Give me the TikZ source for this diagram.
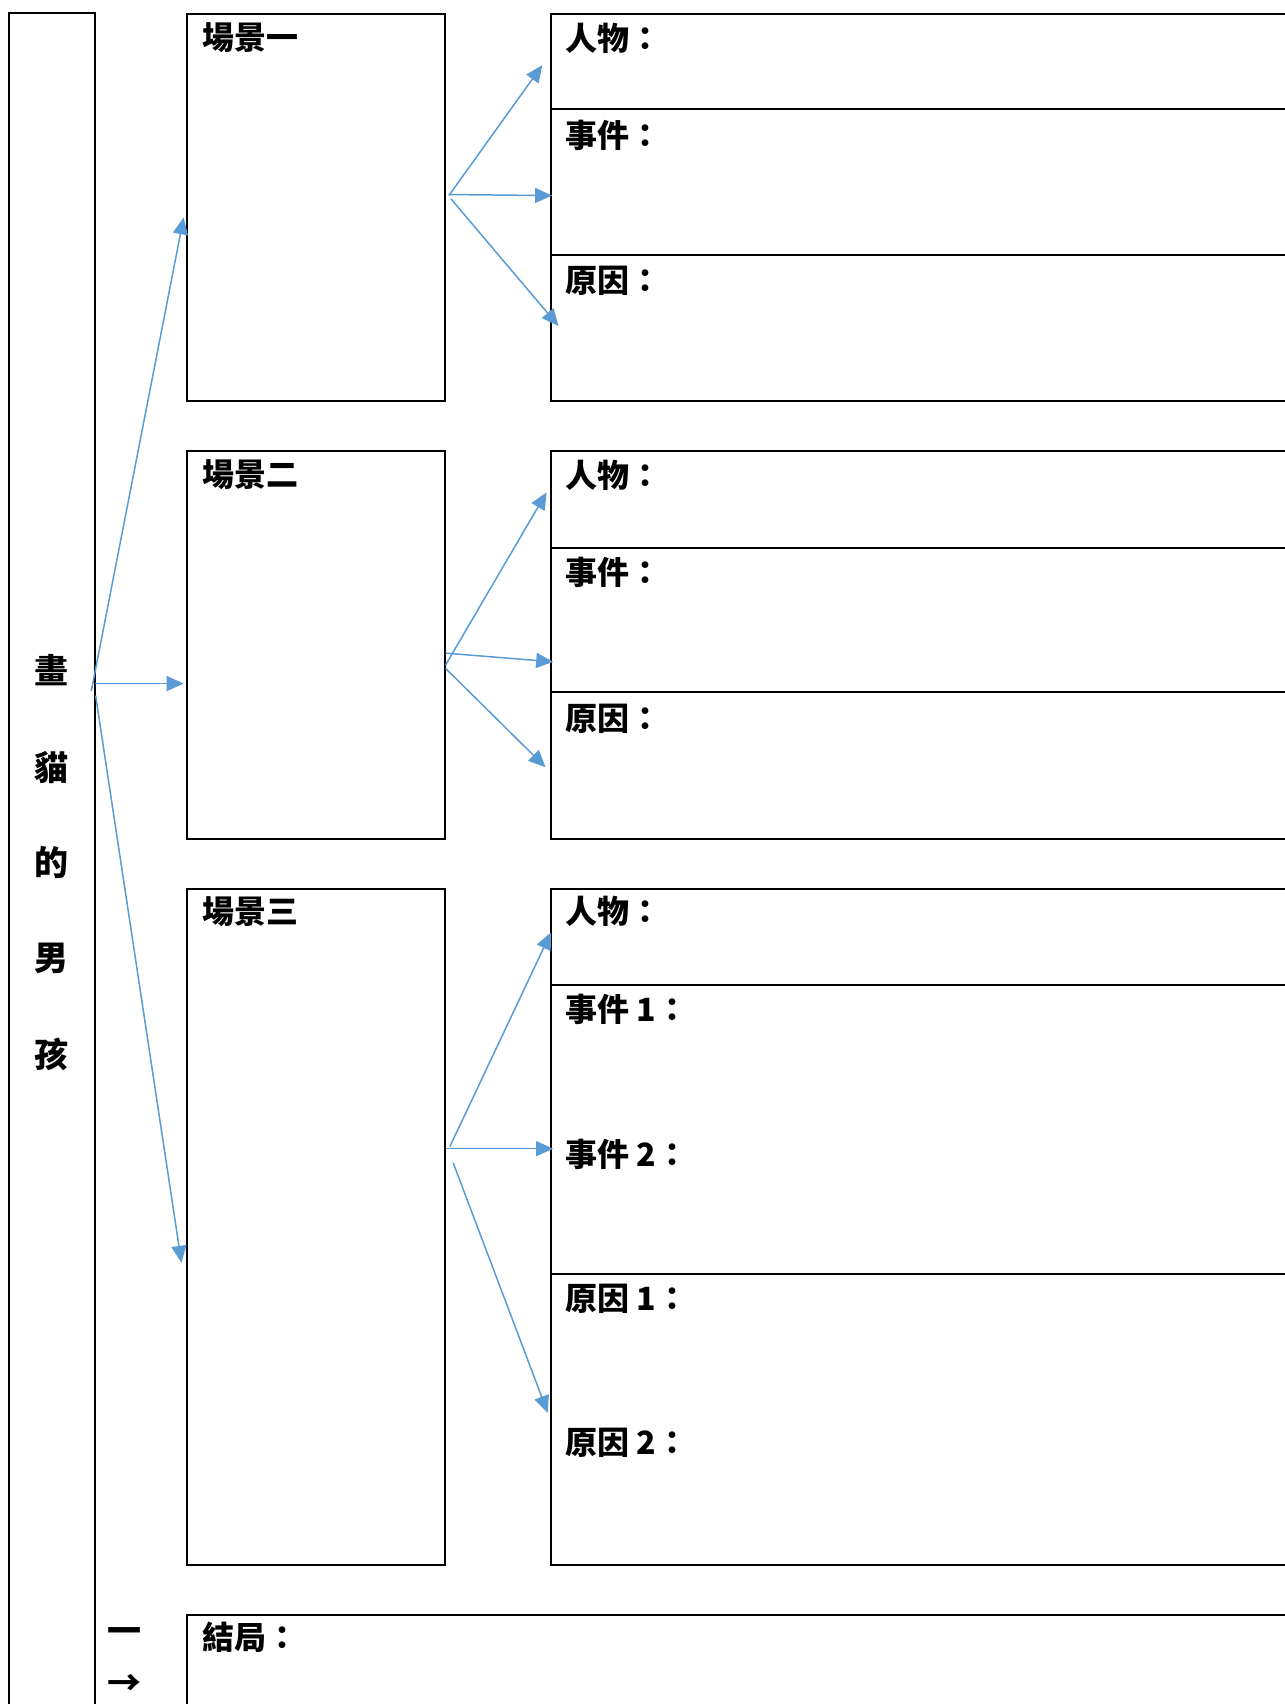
\documentclass[tikz,border=0pt]{standalone}
\usepackage{fontspec}
\newfontfamily\cjk{Noto Sans CJK TC}
\usetikzlibrary{arrows.meta}
\definecolor{arrowblue}{HTML}{5B9BD5}
\begin{document}
\begin{tikzpicture}[x=0.5435pt,y=-0.5435pt,
  box/.style={draw=black,line width=1pt,inner sep=0pt,anchor=north west},
  lbl/.style={anchor=west,inner sep=0pt,font=\cjk\bfseries\fontsize{16pt}{18pt}\selectfont},
  ttl/.style={inner sep=0pt,font=\cjk\bfseries\fontsize{17pt}{19pt}\selectfont},
  conn/.style={draw=arrowblue,line width=0.75pt,-{Triangle[length=8.5pt,width=7.5pt]}},
  divider/.style={draw=black,line width=1pt}]
\useasboundingbox (0,0) rectangle (1182,1568);
% left title column
\draw[line width=1pt] (8,1600) -- (8,12) -- (87,12) -- (87,1600);
\node[ttl] (t1) at (47,617) {畫};
\node[ttl] (t2) at (47,706) {貓};
\node[ttl] (t3) at (47,794) {的};
\node[ttl] (t4) at (47,882) {男};
\node[ttl] (t5) at (47,970) {孩};
% scene boxes
\node[box,minimum width=238*0.5435pt,minimum height=356*0.5435pt] (s1) at (171,12) {};
\node[box,minimum width=238*0.5435pt,minimum height=357*0.5435pt] (s2) at (171,414) {};
\node[box,minimum width=238*0.5435pt,minimum height=622*0.5435pt] (s3) at (171,817) {};
\node[lbl] (s1t) at (186,35) {場景一};
\node[lbl] (s2t) at (186,437) {場景二};
\node[lbl] (s3t) at (186,839) {場景三};
% detail boxes
\node[box,minimum width=700*0.5435pt,minimum height=356*0.5435pt] (d1) at (506,12) {};
\node[box,minimum width=700*0.5435pt,minimum height=357*0.5435pt] (d2) at (506,414) {};
\node[box,minimum width=700*0.5435pt,minimum height=622*0.5435pt] (d3) at (506,817) {};
\draw[divider] (506,100) -- (1200,100);
\draw[divider] (506,235) -- (1200,235);
\draw[divider] (506,504) -- (1200,504);
\draw[divider] (506,637) -- (1200,637);
\draw[divider] (506,906) -- (1200,906);
\draw[divider] (506,1172) -- (1200,1172);
\node[lbl] (d1a) at (520,35) {人物：};
\node[lbl] (d1b) at (520,125) {事件：};
\node[lbl] (d1c) at (520,258) {原因：};
\node[lbl] (d2a) at (520,437) {人物：};
\node[lbl] (d2b) at (520,527) {事件：};
\node[lbl] (d2c) at (520,661) {原因：};
\node[lbl] (d3a) at (520,839) {人物：};
\node[lbl] (d3b) at (520,929) {事件 1：};
\node[lbl] (d3c) at (520,1062) {事件 2：};
\node[lbl] (d3d) at (520,1195) {原因 1：};
\node[lbl] (d3e) at (520,1328) {原因 2：};
% ending box
\node[box,minimum width=1100*0.5435pt,minimum height=200*0.5435pt] (end) at (171,1485) {};
\node[lbl] (endt) at (186,1507) {結局：};
\node[ttl] (dash) at (115,1505) {一};
\node[ttl] (arr) at (115,1550) {→};
% connector coordinates
\coordinate (a0) at (84,636);
\coordinate (a1) at (87,629);
\coordinate (a2) at (88,640);
\coordinate (e1) at (169,200);
\coordinate (e2) at (169,629);
\coordinate (e3) at (167,1162);
\draw[conn] (a0) -- (e1);
\draw[conn] (a1) -- (e2);
\draw[conn] (a2) -- (e3);
% scene 1
\coordinate (b1) at (413,180);
\coordinate (b2) at (413,179);
\coordinate (b3) at (415,183);
\coordinate (f1) at (499,60);
\coordinate (f2) at (508,180);
\coordinate (f3) at (514,300);
\draw[conn] (b1) -- (f1);
\draw[conn] (b2) -- (f2);
\draw[conn] (b3) -- (f3);
% scene 2
\coordinate (c1) at (410,612);
\coordinate (c2) at (410,601);
\coordinate (c3) at (410,615);
\coordinate (g1) at (503,453);
\coordinate (g2) at (509,609);
\coordinate (g3) at (502,706);
\draw[conn] (c1) -- (g1);
\draw[conn] (c2) -- (g2);
\draw[conn] (c3) -- (g3);
% scene 3
\coordinate (h1) at (414,1055);
\coordinate (h2) at (410,1057);
\coordinate (h3) at (417,1070);
\coordinate (k1) at (507,858);
\coordinate (k2) at (509,1057);
\coordinate (k3) at (504,1300);
\draw[conn] (h1) -- (k1);
\draw[conn] (h2) -- (k2);
\draw[conn] (h3) -- (k3);
\end{tikzpicture}
\end{document}
